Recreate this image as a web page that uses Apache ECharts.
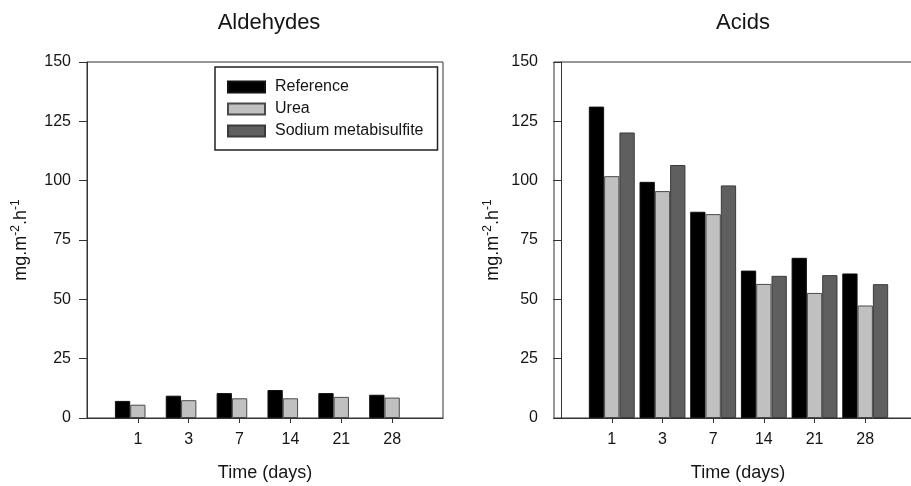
<!DOCTYPE html>
<html>
<head>
<meta charset="utf-8">
<script src="https://cdn.jsdelivr.net/npm/echarts@6/dist/echarts.min.js"></script>
<style>
html,body{margin:0;padding:0;background:#fff;}
#chart{width:911px;height:486px;}
</style>
</head>
<body>
<div id="chart"></div>
<script>
// ---- data ----
var days = ['1', '3', '7', '14', '21', '28'];
var seriesNames = ['Reference', 'Urea', 'Sodium metabisulfite'];
var yTicks = [0, 25, 50, 75, 100, 125, 150];

var aldReference = [7.2, 9.4, 10.5, 11.8, 10.5, 9.8];
var aldUrea      = [5.6, 7.5, 8.3, 8.3, 8.9, 8.6];
var aldSodium    = [null, null, null, null, null, null];

var acidReference = [131.2, 99.5, 86.9, 62.1, 67.5, 60.9];
var acidUrea      = [101.9, 95.6, 85.9, 56.5, 52.7, 47.4];
var acidSodium    = [120.3, 106.6, 98.0, 59.9, 60.2, 56.4];

// ---- helpers ----
var FONT = 'Liberation Sans, Arial, sans-serif';
var TXT = '#151515';
var LINE = '#333';
var colors = ['#000000', '#c0c0c0', '#5f5f5f'];
var borders = ['#111111', '#4a4a4a', '#3a3a3a'];
var positions = days.map(function (d, i) { return i + 1; });

function pts(arr) {
  return arr.map(function (v, i) { return [positions[i], v]; });
}

function xAxisCfg(gridIndex, min, max) {
  return {
    type: 'value', gridIndex: gridIndex, min: min, max: max,
    splitLine: { show: false },
    axisLine: { show: true, lineStyle: { color: LINE, width: 1 } },
    axisTick: { show: true, length: 5, lineStyle: { color: LINE }, customValues: positions },
    axisLabel: {
      customValues: positions, margin: 14, fontSize: 16, fontFamily: FONT, color: TXT,
      formatter: function (v) { return days[Math.round(v) - 1] || ''; }
    },
    name: 'Time (days)', nameLocation: 'middle', nameGap: 46,
    nameTextStyle: { fontSize: 18, fontFamily: FONT, color: TXT }
  };
}

function yAxisCfg(gridIndex, gap) {
  return {
    type: 'value', gridIndex: gridIndex, min: yTicks[0], max: yTicks[yTicks.length - 1], interval: 25,
    splitLine: { show: false },
    axisLine: { show: true, lineStyle: { color: LINE, width: 1 } },
    axisTick: { show: true, length: 8, lineStyle: { color: LINE } },
    axisLabel: { margin: 16, fontSize: 16, fontFamily: FONT, color: TXT },
    name: '{a|mg.m}{s|-2}{a|.h}{s|-1}', nameLocation: 'middle', nameGap: gap, nameRotate: 90,
    nameTextStyle: {
      color: TXT, fontFamily: FONT,
      rich: {
        a: { fontSize: 18, fontFamily: FONT, color: TXT, lineHeight: 22 },
        s: { fontSize: 12, fontFamily: FONT, color: TXT, lineHeight: 22, verticalAlign: 'top' }
      }
    }
  };
}

function barSeries(name, idx, gridIdx, data) {
  return {
    name: name, type: 'bar', xAxisIndex: gridIdx, yAxisIndex: gridIdx,
    barWidth: 15.3, barGap: '0%',
    data: pts(data),
    itemStyle: { color: colors[idx], borderColor: borders[idx], borderWidth: 1 },
    emphasis: { disabled: true },
    animation: false
  };
}

var chart = echarts.init(document.getElementById('chart'), null, { renderer: 'canvas' });
chart.setOption({
  animation: false,
  backgroundColor: '#ffffff',
  title: [
    { text: 'Aldehydes', left: 264, top: 7, textAlign: 'center',
      textStyle: { fontSize: 22, fontWeight: 'normal', fontFamily: FONT, color: TXT } },
    { text: 'Acids', left: 738, top: 7, textAlign: 'center',
      textStyle: { fontSize: 22, fontWeight: 'normal', fontFamily: FONT, color: TXT } }
  ],
  legend: {
    data: seriesNames,
    orient: 'vertical',
    left: 215, top: 67,
    padding: [12, 14, 11, 12],
    itemWidth: 37, itemHeight: 11, itemGap: 6,
    borderColor: '#222', borderWidth: 1.5,
    icon: 'rect',
    selectedMode: false,
    textStyle: { fontSize: 16, fontFamily: FONT, color: TXT, lineHeight: 15, padding: [0, 0, 0, 5] }
  },
  grid: [
    { left: 87, top: 62, width: 356, height: 356, show: true, borderColor: LINE, borderWidth: 1,
      containLabel: false, outerBoundsMode: 'none' },
    { left: 554, top: 62, width: 368, height: 356, show: true, borderColor: LINE, borderWidth: 1,
      containLabel: false, outerBoundsMode: 'none' }
  ],
  xAxis: [xAxisCfg(0, 0, 7), xAxisCfg(1, -0.14, 7.12)],
  yAxis: [yAxisCfg(0, 55), yAxisCfg(1, 50)],
  series: [
    barSeries(seriesNames[0], 0, 0, aldReference),
    barSeries(seriesNames[1], 1, 0, aldUrea),
    barSeries(seriesNames[2], 2, 0, aldSodium),
    barSeries(seriesNames[0], 0, 1, acidReference),
    barSeries(seriesNames[1], 1, 1, acidUrea),
    barSeries(seriesNames[2], 2, 1, acidSodium)
  ]
});
</script>
</body>
</html>
